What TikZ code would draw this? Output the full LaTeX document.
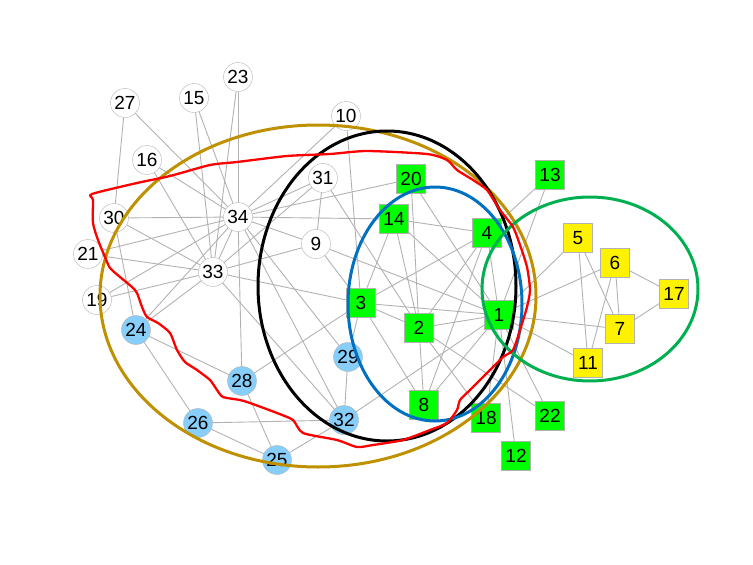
\documentclass[tikz,border=0pt]{standalone}
\usepackage{fontspec}
\setmainfont{Liberation Sans}
\definecolor{goldring}{RGB}{191,144,0}
\definecolor{bluering}{RGB}{0,112,192}
\definecolor{greenring}{RGB}{0,176,80}
\definecolor{skyfill}{RGB}{135,206,250}
\begin{document}
\begin{tikzpicture}[x=1pt,y=-1pt,
		every node/.style={font=\fontsize{19}{19}\selectfont,inner sep=0pt},
		wc/.style={draw=gray!60,fill=white,circle,minimum size=29pt},
		bc/.style={draw=gray!60,fill=skyfill,circle,minimum size=29pt},
		gs/.style={draw=gray!60,fill=green,minimum size=29pt},
		ys/.style={draw=gray!60,fill=yellow,minimum size=29pt},
		edge/.style={draw=gray!60,line width=0.9pt},
		ring/.style={line width=3pt}]
		\useasboundingbox (0,0) rectangle (753,565);
		% squares
		\draw (499,315) node (v1)[gs]{1};
		\draw (419,328) node (v2)[gs]{2};
		\draw (361,303) node (v3)[gs]{3};
		\draw (487,233) node (v4)[gs]{4};
		\draw (578,238) node (v5)[ys]{5};
		\draw (615,263) node (v6)[ys]{6};
		\draw (620,329) node (v7)[ys]{7};
		\draw (424,405) node (v8)[gs]{8};
		\draw (588,363) node (v11)[ys]{11};
		\draw (516,456) node (v12)[gs]{12};
		\draw (550,175) node (v13)[gs]{13};
		\draw (394,219) node (v14)[gs]{14};
		\draw (674,294) node (v17)[ys]{17};
		\draw (486,418) node (v18)[gs]{18};
		\draw (411,179) node (v20)[gs]{20};
		\draw (550,416) node (v22)[gs]{22};
		% circles
		\draw (316,244) node (v9)[wc]{9};
		\draw (346,116) node (v10)[wc]{10};
		\draw (194,98) node (v15)[wc]{15};
		\draw (147,160) node (v16)[wc]{16};
		\draw (97,300) node (v19)[wc]{19};
		\draw (88,254) node (v21)[wc]{21};
		\draw (238,77) node (v23)[wc]{23};
		\draw (125,103) node (v27)[wc]{27};
		\draw (114,218) node (v30)[wc]{30};
		\draw (323,178) node (v31)[wc]{31};
		\draw (213,272) node (v33)[wc]{33};
		\draw (238,217) node (v34)[wc]{34};
		\draw (136,330) node (v24)[bc]{24};
		\draw (277,460) node (v25)[bc]{25};
		\draw (198,423) node (v26)[bc]{26};
		\draw (242,381) node (v28)[bc]{28};
		\draw (348,357) node (v29)[bc]{29};
		\draw (344,420) node (v32)[bc]{32};
		% edges
		\foreach \a/\b in {1/2,1/3,1/4,1/5,1/6,1/7,1/8,1/9,1/11,1/12,1/13,1/14,1/18,1/20,1/22,1/32,
			2/3,2/4,2/8,2/14,2/18,2/20,2/22,2/31,3/4,3/8,3/9,3/10,3/14,3/28,3/29,3/33,
			4/8,4/13,4/14,5/7,5/11,6/7,6/11,6/17,7/17,9/31,9/33,9/34,10/34,14/34,
			15/33,15/34,16/33,16/34,19/33,19/34,20/34,21/33,21/34,23/33,23/34,
			24/26,24/28,24/30,24/33,24/34,25/26,25/28,25/32,26/32,27/30,27/34,28/34,
			29/32,29/34,30/33,30/34,31/33,31/34,32/33,32/34,33/34}
			\draw[edge] (v\a)--(v\b);
		% groups
		\draw[ring,goldring] (318,296) ellipse (218 and 171);
		\draw[ring,black] (387,286) ellipse (129 and 155);
		\draw[ring,bluering] (435,304) ellipse (87 and 117);
		\draw[ring,greenring] (590,289) ellipse (108 and 92);
		\draw[red,line width=2.3pt,line join=round] plot[smooth cycle,tension=0.4] coordinates {
			(92,194) (137,183) (170,176) (210,165) (237,162) (287,156) (330,154) (367,151)
			(427,154) (447,160) (457,170) (473,180) (487,190) (500,210) (513,227) (520,245)
			(527,267) (530,290) (527,307) (520,330) (513,350) (503,357) (493,367) (483,377)
			(470,390) (460,400) (457,410) (447,423) (430,430) (403,440) (373,445) (357,447)
			(337,440) (303,433) (293,420) (277,413) (250,403) (240,400) (223,397) (217,390)
			(210,380) (197,370) (185,362) (177,350) (170,333) (158,323) (147,317) (142,307)
			(137,293) (132,287) (120,277) (110,268) (105,257) (98,240) (93,223) (93,200)};
	\end{tikzpicture}
\end{document}
